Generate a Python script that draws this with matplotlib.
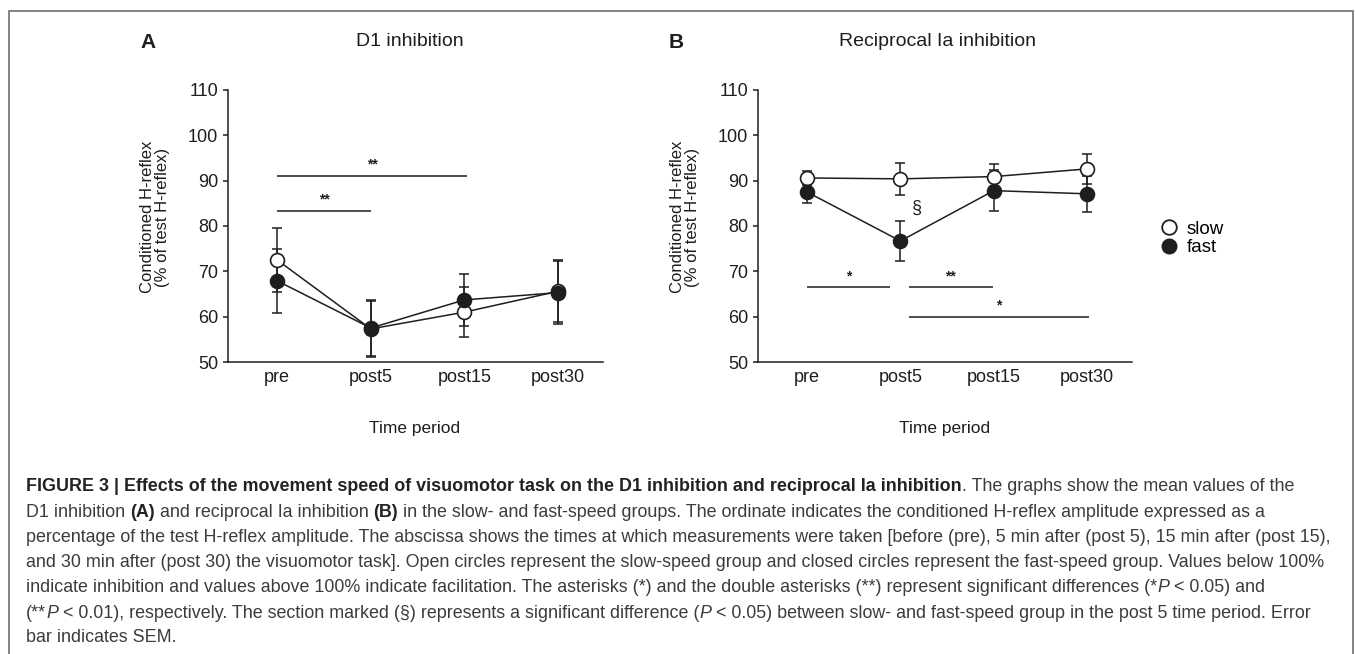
import numpy as np
import matplotlib
matplotlib.use('Agg')
import matplotlib.pyplot as plt
from matplotlib import font_manager
from matplotlib.lines import Line2D
from matplotlib.patches import Rectangle

# Datos (media y SEM, % del reflejo H de prueba)
periods = ['pre', 'post5', 'post15', 'post30']

d1_slow = [72.5, 57.3, 61.0, 65.6]
d1_slow_sem = [7.1, 6.2, 5.5, 6.8]
d1_fast = [67.9, 57.5, 63.7, 65.3]
d1_fast_sem = [7.0, 6.1, 5.7, 7.0]

ia_slow = [90.6, 90.4, 90.9, 92.6]
ia_slow_sem = [1.5, 3.5, 2.8, 3.3]
ia_fast = [87.5, 76.7, 87.8, 87.1]
ia_fast_sem = [2.4, 4.5, 4.5, 4.0]

# barras de significancia (inicio, fin, altura, texto)
d1_sig_start = [0, 0]
d1_sig_end = [1, 2.03]
d1_sig_y = [83.3, 91.1]
d1_sig_text = ['**', '**']

ia_sig_start = [0, 1.09, 1.09]
ia_sig_end = [0.89, 1.99, 3.02]
ia_sig_y = [66.5, 66.5, 60.0]
ia_sig_text = ['*', '**', '*']

W, H = 1355, 654
ink = '#1e1e1e'


def fx(x):
    return x / W


def fy(y):
    return 1 - y / H


plt.rcParams['font.family'] = ['Liberation Sans', 'DejaVu Sans']
fig = plt.figure(figsize=(W / 100, H / 100), dpi=100)

# marco gris de la figura
fig.patches.append(Rectangle((fx(9), fy(700)), fx(1353) - fx(9), fy(11) - fy(700),
                             transform=fig.transFigure, fill=False,
                             edgecolor='#7a7a7a', linewidth=1.3))


def panel(left_px, right_px, slow, slow_sem, fast, fast_sem, s0, s1, sy, stxt):
    ax = fig.add_axes([fx(left_px), fy(362), fx(right_px) - fx(left_px), (362 - 90) / H])
    x = np.arange(len(periods))
    ax.errorbar(x, slow, yerr=slow_sem, fmt='none', ecolor=ink, elinewidth=1.1,
                capsize=3.8, capthick=1.1, zorder=1)
    ax.errorbar(x, fast, yerr=fast_sem, fmt='none', ecolor=ink, elinewidth=1.1,
                capsize=3.8, capthick=1.1, zorder=1)
    ax.plot(x, slow, '-o', color=ink, lw=1.1, ms=10, mfc='white', mec=ink, mew=1.2, zorder=2)
    ax.plot(x, fast, '-o', color=ink, lw=1.1, ms=10, mfc=ink, mec=ink, mew=1.2, zorder=3)
    for a, b, y, t in zip(s0, s1, sy, stxt):
        ax.plot([a, b], [y, y], color=ink, lw=1.1, solid_capstyle='butt')
        ax.text((a + b) / 2, y + 0.9, t, ha='center', va='bottom', fontsize=10,
                fontweight='bold', color=ink)
    ax.set_xlim(-0.525, 3.48)
    ax.set_ylim(50, 110)
    ax.set_yticks(range(50, 111, 10))
    ax.set_xticks(x, periods)
    for sp in ['top', 'right']:
        ax.spines[sp].set_visible(False)
    for sp in ['left', 'bottom']:
        ax.spines[sp].set_linewidth(1.1)
        ax.spines[sp].set_color(ink)
    ax.tick_params(axis='y', length=3.6, width=1.1, color=ink, pad=3.6,
                   labelsize=13, labelcolor=ink)
    ax.tick_params(axis='x', length=0, pad=5, labelsize=13, labelcolor=ink)
    return ax


axA = panel(228, 603, d1_slow, d1_slow_sem, d1_fast, d1_fast_sem,
            d1_sig_start, d1_sig_end, d1_sig_y, d1_sig_text)
axB = panel(758, 1132, ia_slow, ia_slow_sem, ia_fast, ia_fast_sem,
            ia_sig_start, ia_sig_end, ia_sig_y, ia_sig_text)
axB.text(1.18, 83.8, '§', ha='center', va='center', fontsize=13, color=ink)

# letras, titulos y etiquetas de ejes
fig.text(fx(148), fy(42), 'A', ha='center', va='center', fontsize=15, fontweight='bold', color=ink)
fig.text(fx(676), fy(42), 'B', ha='center', va='center', fontsize=15, fontweight='bold', color=ink)
fig.text(fx(410), fy(42), 'D1 inhibition', ha='center', va='center', fontsize=14, color=ink)
fig.text(fx(938), fy(42), 'Reciprocal Ia inhibition', ha='center', va='center', fontsize=14, color=ink)
for xl in [155, 685]:
    fig.text(fx(xl), fy(217), 'Conditioned H-reflex\n(% of test H-reflex)', rotation=90,
             ha='center', va='center', fontsize=12, linespacing=1.0, color=ink)
for xc in [415, 945]:
    fig.text(fx(xc), fy(428), 'Time period', ha='center', va='center', fontsize=12.5, color=ink)

# leyenda
handles = [Line2D([], [], ls='none', marker='o', ms=10.5, mfc='white', mec=ink, mew=1.3),
           Line2D([], [], ls='none', marker='o', ms=10.5, mfc=ink, mec=ink)]
fig.legend(handles, ['slow', 'fast'], loc='center left', bbox_to_anchor=(fx(1161), fy(238.5)),
           frameon=False, fontsize=13.5, handlelength=0.9, handletextpad=0.45,
           labelspacing=0.05, borderpad=0, borderaxespad=0)

# pie de figura
names = {f.name for f in font_manager.fontManager.ttflist}
cap_family = 'Liberation Sans Narrow' if 'Liberation Sans Narrow' in names else 'Liberation Sans'

B_, N_, I_ = ('bold', 'normal'), ('normal', 'normal'), ('normal', 'italic')
cap_lines = [
    [("FIGURE 3 | Effects of the movement speed of visuomotor task on the D1 inhibition and reciprocal Ia inhibition", B_),
     (". The graphs show the mean values of the", N_)],
    [("D1 inhibition ", N_), ("(A)", B_), (" and reciprocal Ia inhibition ", N_), ("(B)", B_),
     (" in the slow- and fast-speed groups. The ordinate indicates the conditioned H-reflex amplitude expressed as a", N_)],
    [("percentage of the test H-reflex amplitude. The abscissa shows the times at which measurements were taken [before (pre), 5 min after (post 5), 15 min after (post 15),", N_)],
    [("and 30 min after (post 30) the visuomotor task]. Open circles represent the slow-speed group and closed circles represent the fast-speed group. Values below 100%", N_)],
    [("indicate inhibition and values above 100% indicate facilitation. The asterisks (*) and the double asterisks (**) represent significant differences (*", N_),
     ("P", I_), (" < 0.05) and", N_)],
    [("(**", N_), ("P", I_), (" < 0.01), respectively. The section marked (§) represents a significant difference (", N_),
     ("P", I_), (" < 0.05) between slow- and fast-speed group in the post 5 time period. Error", N_)],
    [("bar indicates SEM.", N_)],
]
cap_base = [491, 517, 542, 567, 592, 618, 642]

fig.canvas.draw()
r = fig.canvas.get_renderer()


def adv(s, size, style):
    # avance horizontal del texto (incluye espacios)
    def w(t):
        tt = fig.text(0, 0, t, fontsize=size, family=cap_family,
                      fontweight=style[0], fontstyle=style[1])
        val = tt.get_window_extent(r).width
        tt.remove()
        return val
    return w('|' + s + '|') - w('||')


# tamano de letra ajustado al ancho de la tercera linea
w10 = adv(cap_lines[2][0][0], 10, N_)
cap_size = 10 * (1337 - 26) / w10

for segs, yb in zip(cap_lines, cap_base):
    x = 26
    for s, st in segs:
        core = s.strip(' ')
        lead = len(s) - len(s.lstrip(' '))
        trail = len(s) - len(s.rstrip(' '))
        if lead:
            x += adv(' ' * lead, cap_size, st)
        fig.text(fx(x), fy(yb), core, ha='left', va='baseline', fontsize=cap_size,
                 family=cap_family, fontweight=st[0], fontstyle=st[1],
                 color='#222222' if st[0] == 'bold' else '#3c3c3c')
        x += adv(core, cap_size, st)
        if trail:
            x += adv(' ' * trail, cap_size, st)

fig.savefig('out.png', dpi=100)
